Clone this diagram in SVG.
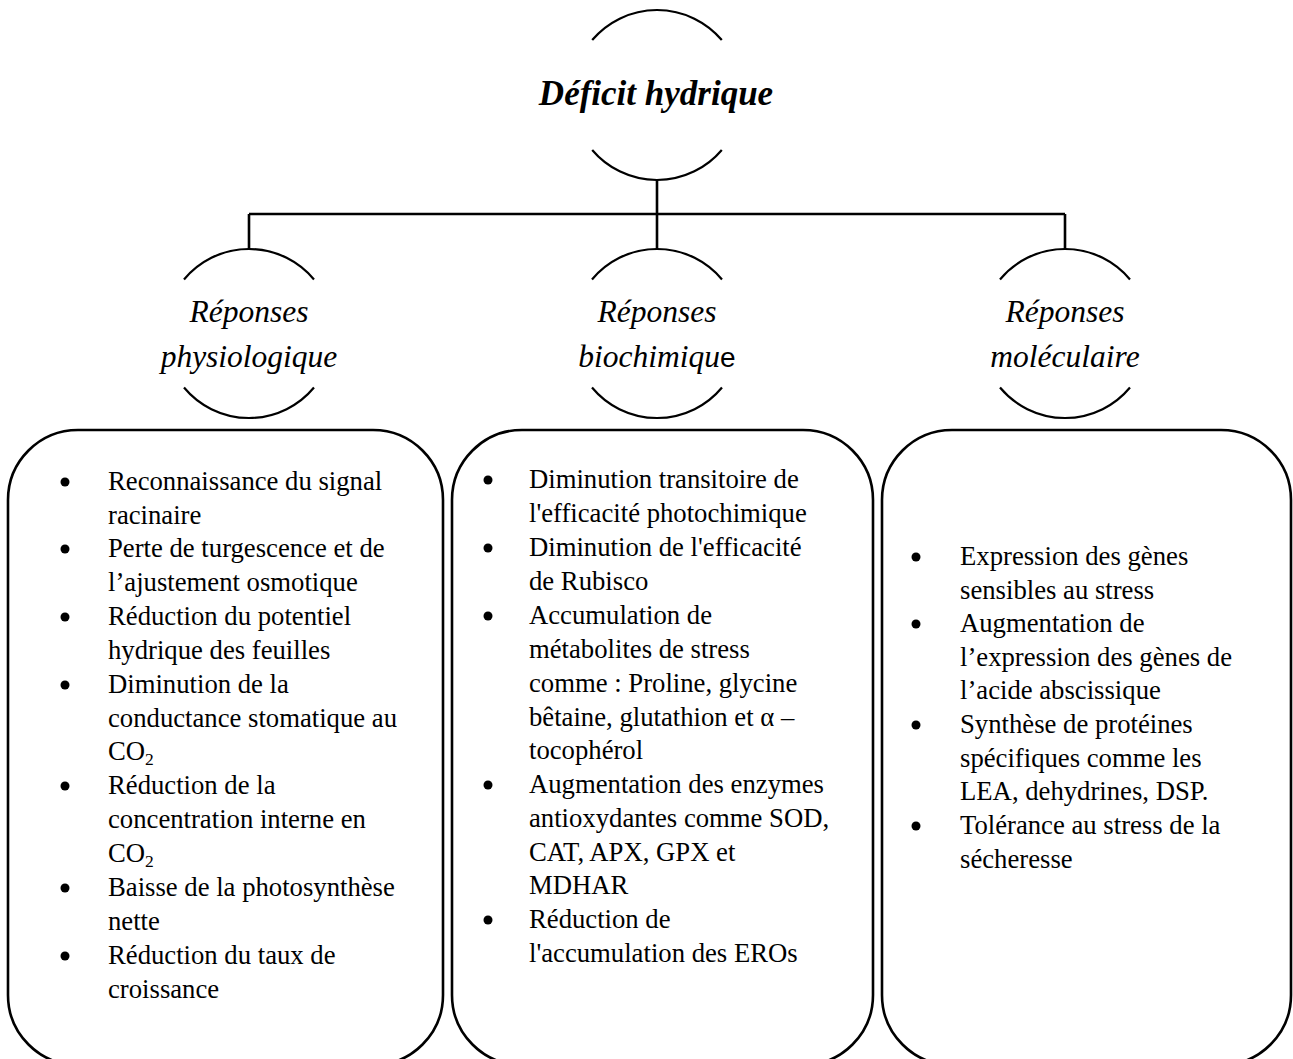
<svg xmlns="http://www.w3.org/2000/svg" width="1293" height="1059" viewBox="0 0 1293 1059">
<style>
.arc{fill:none;stroke:#000;stroke-width:2.2}
.box{fill:none;stroke:#000;stroke-width:2.6}
.con{fill:none;stroke:#000;stroke-width:2.6}
.t{font-family:"Liberation Serif","Times New Roman",serif;font-size:26.7px;fill:#000}
.lab{font-family:"Liberation Serif","Times New Roman",serif;font-size:31.5px;font-style:italic;fill:#000;text-anchor:middle}
.title{font-family:"Liberation Serif","Times New Roman",serif;font-size:35px;font-style:italic;font-weight:bold;fill:#000;text-anchor:middle}
.sub{font-size:17.5px}
.b{fill:#000}
</style>
<rect width="1293" height="1059" fill="#fff"/>
<g id="connectors">
<path class="con" d="M657 180 V249 M249 214 H1065 M249 214 V249 M1065 214 V249"/>
</g>
<g id="deficit">
<path class="arc" d="M592.2 40 A85 85 0 0 1 721.8 40"/>
<path class="arc" d="M592.2 150 A85 85 0 0 0 721.8 150"/>
<text class="title" x="656" y="105">Déficit hydrique</text>
</g>
<g id="physio">
<path class="arc" d="M184 279.5 A84.5 84.5 0 0 1 314 279.5"/>
<path class="arc" d="M184 387.5 A84.5 84.5 0 0 0 314 387.5"/>
<text class="lab" x="249" y="322">Réponses</text>
<text class="lab" x="249" y="367">physiologique</text>
</g>
<g id="biochim">
<path class="arc" d="M592 279.5 A84.5 84.5 0 0 1 722 279.5"/>
<path class="arc" d="M592 387.5 A84.5 84.5 0 0 0 722 387.5"/>
<text class="lab" x="657" y="322">Réponses</text>
<text class="lab" x="657" y="367">biochimiqu<tspan style="font-family:'Liberation Sans',Arial,sans-serif;font-style:normal;font-size:28px">e</tspan></text>
</g>
<g id="molec">
<path class="arc" d="M1000 279.5 A84.5 84.5 0 0 1 1130 279.5"/>
<path class="arc" d="M1000 387.5 A84.5 84.5 0 0 0 1130 387.5"/>
<text class="lab" x="1065" y="322">Réponses</text>
<text class="lab" x="1065" y="367">moléculaire</text>
</g>
<g id="box-physio">
<rect class="box" x="8" y="430" width="435" height="635" rx="70" ry="70"/>
<g class="b">
<circle cx="65" cy="482" r="4.5"/><circle cx="65" cy="549" r="4.5"/><circle cx="65" cy="617" r="4.5"/><circle cx="65" cy="685" r="4.5"/><circle cx="65" cy="786" r="4.5"/><circle cx="65" cy="888" r="4.5"/><circle cx="65" cy="956" r="4.5"/>
</g>
<text class="t">
<tspan x="108" y="490">Reconnaissance du signal</tspan>
<tspan x="108" y="524">racinaire</tspan>
<tspan x="108" y="557">Perte de turgescence et de</tspan>
<tspan x="108" y="591">l’ajustement osmotique</tspan>
<tspan x="108" y="625">Réduction du potentiel</tspan>
<tspan x="108" y="659">hydrique des feuilles</tspan>
<tspan x="108" y="693">Diminution de la</tspan>
<tspan x="108" y="727">conductance stomatique au</tspan>
<tspan x="108" y="760">CO</tspan><tspan class="sub" dy="5">2</tspan>
<tspan x="108" y="794">Réduction de la</tspan>
<tspan x="108" y="828">concentration interne en</tspan>
<tspan x="108" y="862">CO</tspan><tspan class="sub" dy="5">2</tspan>
<tspan x="108" y="896">Baisse de la photosynthèse</tspan>
<tspan x="108" y="930">nette</tspan>
<tspan x="108" y="964">Réduction du taux de</tspan>
<tspan x="108" y="998">croissance</tspan>
</text>
</g>
<g id="box-biochim">
<rect class="box" x="452" y="430" width="421" height="635" rx="70" ry="70"/>
<g class="b">
<circle cx="488" cy="480" r="4.5"/><circle cx="488" cy="548" r="4.5"/><circle cx="488" cy="616" r="4.5"/><circle cx="488" cy="785" r="4.5"/><circle cx="488" cy="920" r="4.5"/>
</g>
<text class="t">
<tspan x="529" y="488">Diminution transitoire de</tspan>
<tspan x="529" y="522">l'efficacité photochimique</tspan>
<tspan x="529" y="556">Diminution de l'efficacité</tspan>
<tspan x="529" y="590">de Rubisco</tspan>
<tspan x="529" y="624">Accumulation de</tspan>
<tspan x="529" y="658">métabolites de stress</tspan>
<tspan x="529" y="692">comme : Proline, glycine</tspan>
<tspan x="529" y="726">bêtaine, glutathion et α –</tspan>
<tspan x="529" y="759">tocophérol</tspan>
<tspan x="529" y="793">Augmentation des enzymes</tspan>
<tspan x="529" y="827">antioxydantes comme SOD,</tspan>
<tspan x="529" y="861">CAT, APX, GPX et</tspan>
<tspan x="529" y="894">MDHAR</tspan>
<tspan x="529" y="928">Réduction de</tspan>
<tspan x="529" y="962">l'accumulation des EROs</tspan>
</text>
</g>
<g id="box-molec">
<rect class="box" x="882" y="430" width="409" height="635" rx="70" ry="70"/>
<g class="b">
<circle cx="916" cy="557" r="4.5"/><circle cx="916" cy="624" r="4.5"/><circle cx="916" cy="725" r="4.5"/><circle cx="916" cy="826" r="4.5"/>
</g>
<text class="t">
<tspan x="960" y="565">Expression des gènes</tspan>
<tspan x="960" y="599">sensibles au stress</tspan>
<tspan x="960" y="632">Augmentation de</tspan>
<tspan x="960" y="666">l’expression des gènes de</tspan>
<tspan x="960" y="699">l’acide abscissique</tspan>
<tspan x="960" y="733">Synthèse de protéines</tspan>
<tspan x="960" y="767">spécifiques comme les</tspan>
<tspan x="960" y="800">LEA, dehydrines, DSP.</tspan>
<tspan x="960" y="834">Tolérance au stress de la</tspan>
<tspan x="960" y="868">sécheresse</tspan>
</text>
</g>
</svg>
